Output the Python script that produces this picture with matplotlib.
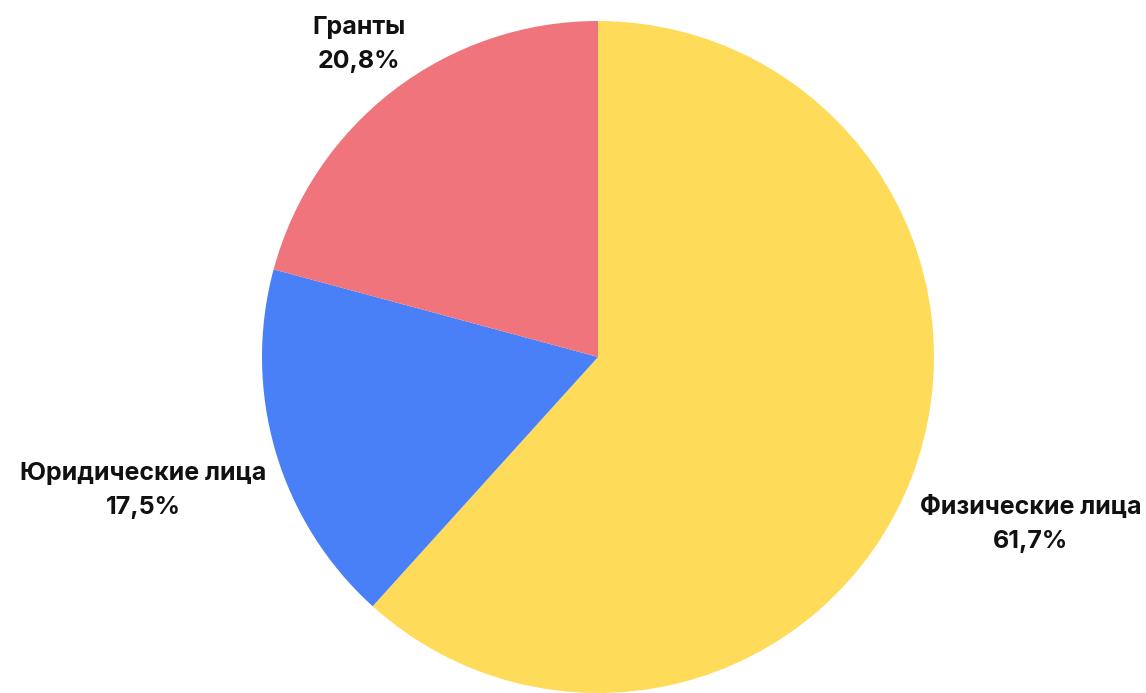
import matplotlib.pyplot as plt
import numpy as np

# Data
labels = ['Физические лица', 'Юридические лица', 'Гранты']
shares = [61.7, 17.5, 20.8]
colors = ['#FEDC5A', '#4A80F7', '#F0747C']

# how far out each label sits (in radii)
label_dist = [1.38, 1.41, 1.17]

plt.rcParams['font.family'] = ['Inter', 'DejaVu Sans']

fig = plt.figure(figsize=(11.46, 6.93), dpi=100)
ax = fig.add_axes([0, 0, 1, 1])

wedges, _ = ax.pie(shares, colors=colors, startangle=90, counterclock=False,
                   radius=1.0, wedgeprops=dict(linewidth=0))

for w, lab, val, d in zip(wedges, labels, shares, label_dist):
    ang = np.deg2rad((w.theta1 + w.theta2) / 2)
    x, y = d * np.cos(ang), d * np.sin(ang)
    txt = lab + '\n' + f'{val:.1f}%'.replace('.', ',')
    ax.text(x, y, txt, ha='center', va='center', fontsize=18,
            fontweight='bold', color='#111111', linespacing=1.6)

# pie centre at (598, 357) px, radius 336 px
scale = 336
ax.set_xlim(-598 / scale, (1146 - 598) / scale)
ax.set_ylim(-(693 - 357) / scale, 357 / scale)
ax.set_aspect('auto')
ax.axis('off')

plt.savefig('out.png', dpi=100)
